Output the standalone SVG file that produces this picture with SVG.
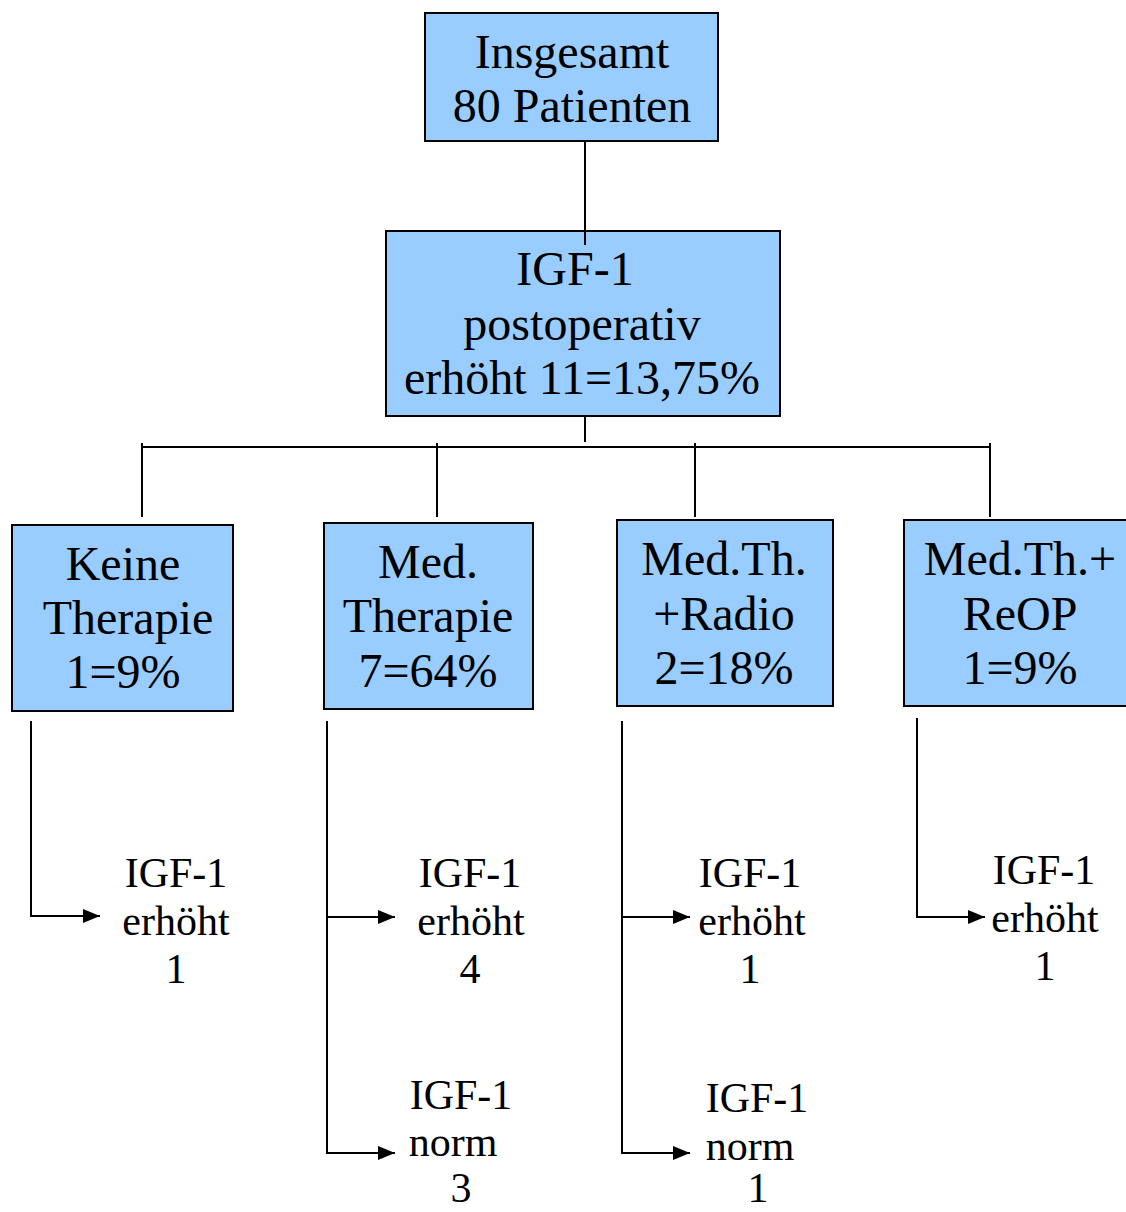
<svg xmlns="http://www.w3.org/2000/svg" width="1126" height="1212" viewBox="0 0 1126 1212">
<style>
.box{fill:#99CCFF;stroke:#000;stroke-width:2}
.bt{font-family:"Liberation Serif",serif;font-size:48px;fill:#000;text-anchor:middle}
.lt{font-family:"Liberation Serif",serif;font-size:42px;fill:#000;text-anchor:middle}
.ln{stroke:#000;stroke-width:2;fill:none}
</style>
<defs>
<marker id="ah" markerWidth="18" markerHeight="16" refX="17" refY="8" orient="auto" markerUnits="userSpaceOnUse"><path d="M0,1 L17,8 L0,15 Z" fill="#000"/></marker>
</defs>
<rect width="1126" height="1212" fill="#fff"/>
<g id="connectors">
<line class="ln" x1="585" y1="141" x2="585" y2="245"/>
<line class="ln" x1="585" y1="407" x2="585" y2="442"/>
<line class="ln" x1="142" y1="447" x2="990" y2="447"/>
<line class="ln" x1="142" y1="443" x2="142" y2="517"/>
<line class="ln" x1="437" y1="443" x2="437" y2="517"/>
<line class="ln" x1="695" y1="443" x2="695" y2="517"/>
<line class="ln" x1="990" y1="443" x2="990" y2="517"/>
<path class="ln" d="M31,721 V916 H100" marker-end="url(#ah)"/>
<path class="ln" d="M327,721 V1153 H395" marker-end="url(#ah)"/>
<path class="ln" d="M327,917 H395" marker-end="url(#ah)"/>
<path class="ln" d="M622,721 V1153 H690" marker-end="url(#ah)"/>
<path class="ln" d="M622,917 H690" marker-end="url(#ah)"/>
<path class="ln" d="M917,718 V917 H985" marker-end="url(#ah)"/>
</g>
<g id="n-total">
<rect class="box" x="425" y="13" width="293" height="128"/>
<text class="bt" x="572" y="68">Insgesamt</text>
<text class="bt" x="572" y="122">80 Patienten</text>
</g>
<g id="n-igf">
<rect class="box" x="386" y="231" width="394" height="185"/>
<line class="ln" x1="585" y1="231" x2="585" y2="245"/>
<text class="bt" x="575" y="285">IGF-1</text>
<text class="bt" x="582" y="340">postoperativ</text>
<text class="bt" x="582" y="394">erhöht 11=13,75%</text>
</g>
<g id="n-keine">
<rect class="box" x="12" y="525" width="221" height="186"/>
<text class="bt" x="123" y="580">Keine</text>
<text class="bt" x="128" y="634">Therapie</text>
<text class="bt" x="123" y="688">1=9%</text>
</g>
<g id="n-med">
<rect class="box" x="324" y="523" width="209" height="186"/>
<text class="bt" x="428" y="578">Med.</text>
<text class="bt" x="428" y="632">Therapie</text>
<text class="bt" x="428" y="687">7=64%</text>
</g>
<g id="n-radio">
<rect class="box" x="617" y="520" width="216" height="186"/>
<text class="bt" x="724" y="575">Med.Th.</text>
<text class="bt" x="724" y="630">+Radio</text>
<text class="bt" x="724" y="684">2=18%</text>
</g>
<g id="n-reop">
<rect class="box" x="904" y="520" width="230" height="186"/>
<text class="bt" x="1020" y="575">Med.Th.+</text>
<text class="bt" x="1020" y="630">ReOP</text>
<text class="bt" x="1020" y="684">1=9%</text>
</g>
<g id="l-keine-erh">
<text class="lt" x="176" y="887">IGF-1</text>
<text class="lt" x="176" y="935">erhöht</text>
<text class="lt" x="176" y="983">1</text>
</g>
<g id="l-med-erh">
<text class="lt" x="470" y="887">IGF-1</text>
<text class="lt" x="471" y="935">erhöht</text>
<text class="lt" x="470" y="983">4</text>
</g>
<g id="l-med-norm">
<text class="lt" x="461" y="1109">IGF-1</text>
<text class="lt" x="453" y="1156">norm</text>
<text class="lt" x="461" y="1202">3</text>
</g>
<g id="l-radio-erh">
<text class="lt" x="750" y="887">IGF-1</text>
<text class="lt" x="752" y="935">erhöht</text>
<text class="lt" x="750" y="983">1</text>
</g>
<g id="l-radio-norm">
<text class="lt" x="757" y="1112">IGF-1</text>
<text class="lt" x="750" y="1160">norm</text>
<text class="lt" x="758" y="1202">1</text>
</g>
<g id="l-reop-erh">
<text class="lt" x="1044" y="884">IGF-1</text>
<text class="lt" x="1045" y="932">erhöht</text>
<text class="lt" x="1045" y="980">1</text>
</g>
</svg>
